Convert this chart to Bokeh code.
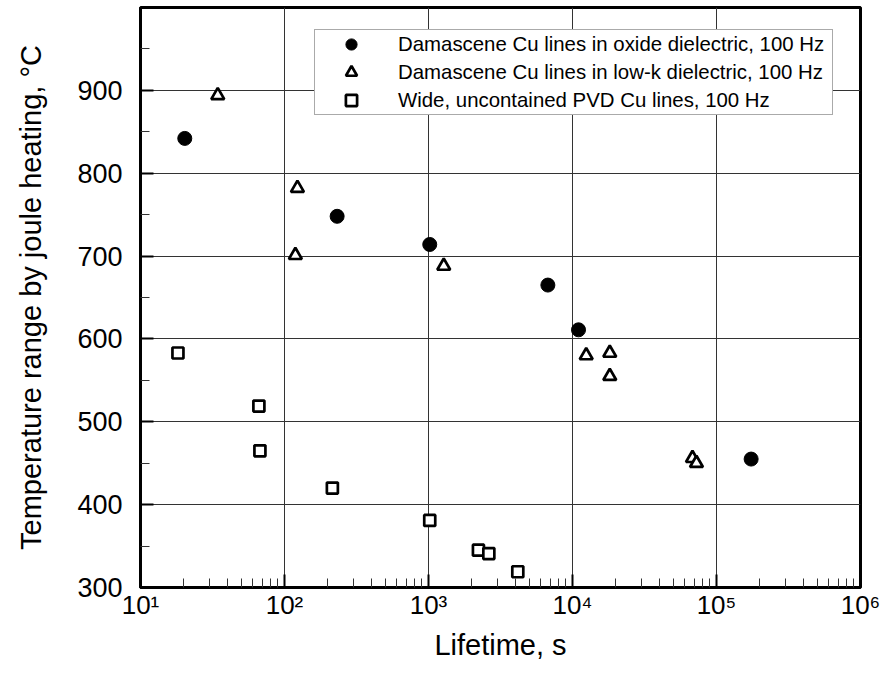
from bokeh.plotting import figure
from bokeh.models import FixedTicker, Legend, LegendItem, CustomJSTickFormatter
from bokeh.embed import file_html
from bokeh.resources import INLINE

# ---- data ----
oxide_x = [20.3, 232, 1020, 6745, 11010, 174000]
oxide_y = [842, 748, 714, 665, 611, 455]

lowk_x = [34.4, 123, 119, 1276, 12450, 18150, 18150, 68100, 72600]
lowk_y = [894, 782, 701, 688, 580, 583, 555, 456, 450]

wide_x = [18.2, 66.4, 67.5, 215, 1020, 2222, 2624, 4170]
wide_y = [583, 519, 465, 420, 381, 345, 341, 319]

x_ticks = [10, 100, 1000, 10000, 100000, 1000000]
x_tick_labels = ["10\u00b9", "10\u00b2", "10\u00b3", "10\u2074", "10\u2075", "10\u2076"]
y_ticks = [300, 400, 500, 600, 700, 800, 900]
y_minor = [350, 450, 550, 650, 750, 850, 950]

labels = ["Damascene Cu lines in oxide dielectric, 100 Hz",
          "Damascene Cu lines in low-k dielectric, 100 Hz",
          "Wide, uncontained PVD Cu lines, 100 Hz"]

FONT = "Liberation Sans"

p = figure(width=880, height=675, x_axis_type="log",
           x_range=(10, 1e6), y_range=(300, 1000),
           output_backend="svg", toolbar_location=None,
           min_border_left=140, min_border_right=20,
           min_border_top=7, min_border_bottom=88)

p.background_fill_color = "white"
p.border_fill_color = "white"
p.outline_line_color = "black"
p.outline_line_width = 3

x_minor = [m * d for d in x_ticks[:-1] for m in range(2, 10)]
p.xaxis.ticker = FixedTicker(ticks=x_ticks, minor_ticks=x_minor)
p.yaxis.ticker = FixedTicker(ticks=y_ticks, minor_ticks=y_minor)
p.xaxis.formatter = CustomJSTickFormatter(args=dict(t=x_ticks, l=x_tick_labels), code="""
    for (let i = 0; i < t.length; i++) { if (Math.abs(Math.log10(tick) - Math.log10(t[i])) < 1e-6) return l[i]; }
    return "";
""")

for ax in (p.xaxis, p.yaxis):
    ax.axis_line_width = 3
    ax.axis_line_color = "black"
    ax.major_tick_in = 13
    ax.major_tick_out = 0
    ax.minor_tick_in = 9
    ax.minor_tick_out = 0
    ax.major_tick_line_width = 2
    ax.minor_tick_line_width = 1
    ax.major_tick_line_color = "black"
    ax.minor_tick_line_color = "#333333"
    ax.major_label_text_font = FONT
    ax.major_label_text_color = "black"
    ax.axis_label_text_font = FONT
    ax.axis_label_text_font_style = "normal"
    ax.axis_label_text_color = "black"
    ax.axis_label_text_font_size = "29px"

p.xaxis.major_label_text_font_size = "26px"
p.yaxis.major_label_text_font_size = "27px"
p.xaxis.major_label_standoff = 2
p.yaxis.major_label_standoff = 18
p.xaxis.axis_label = "Lifetime, s"
p.yaxis.axis_label = "Temperature range by joule heating, \u00b0C"
p.xaxis.axis_label_standoff = 6
p.yaxis.axis_label_standoff = 27

p.xgrid.grid_line_color = "#333333"
p.ygrid.grid_line_color = "#333333"
p.xgrid.grid_line_width = 1
p.ygrid.grid_line_width = 1

r_ox = p.scatter(oxide_x, oxide_y, marker="circle", size=14,
                 fill_color="black", line_color="black", line_width=1)
r_lk = p.scatter(lowk_x, lowk_y, marker="triangle", size=13,
                 fill_color="white", line_color="black", line_width=2.7)
r_wd = p.scatter(wide_x, wide_y, marker="square", size=11,
                 fill_color="white", line_color="black", line_width=2.7)

legend = Legend(items=[LegendItem(label=labels[0], renderers=[r_ox]),
                       LegendItem(label=labels[1], renderers=[r_lk]),
                       LegendItem(label=labels[2], renderers=[r_wd])],
                location=(174, 472))
legend.padding = 0
legend.margin = 0
legend.glyph_width = 72
legend.glyph_height = 28
legend.spacing = 0
legend.label_standoff = 11
legend.label_width = 434
legend.label_text_font = FONT
legend.label_text_font_size = "20.4px"
legend.label_text_color = "black"
legend.border_line_color = "#555555"
legend.border_line_width = 1.5
legend.background_fill_color = "white"
legend.background_fill_alpha = 1
p.add_layout(legend, "center")

open("out.html", "w").write(file_html(p, INLINE))
